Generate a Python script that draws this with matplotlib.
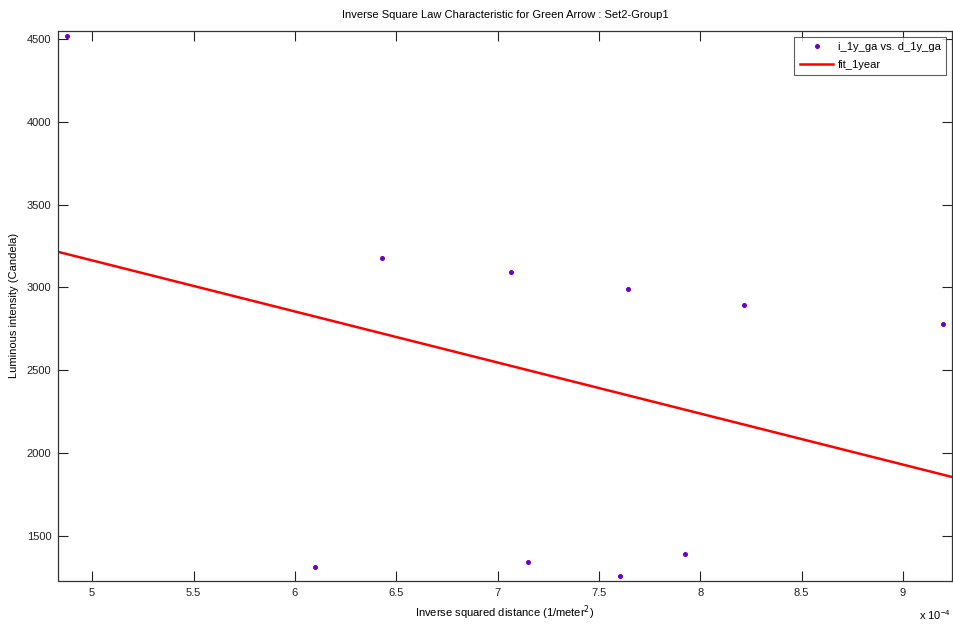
#inverse square law scatter with linear fit, matlab-looking figure

import matplotlib.pyplot as plt
from matplotlib.ticker import FuncFormatter
import numpy as np

plt.rcParams['font.family'] = ['Liberation Sans', 'DejaVu Sans']

#data (x in 1/m^2, y in candela)
dist_inv_sq = [4.877e-4, 6.098e-4, 6.431e-4, 7.067e-4, 7.151e-4,
               7.603e-4, 7.644e-4, 7.925e-4, 8.216e-4, 9.198e-4]
intensity = [4516, 1317, 3178, 3094, 1345, 1262, 2991, 1393, 2895, 2780]

#linear fit coefficients  y = p1*x + p2
p1 = -3.078e6
p2 = 4702.0

xlim = [4.834e-4, 9.24e-4]
ylim = [1232, 4546]
xticks = [5e-4, 5.5e-4, 6e-4, 6.5e-4, 7e-4, 7.5e-4, 8e-4, 8.5e-4, 9e-4]
yticks = [1500, 2000, 2500, 3000, 3500, 4000, 4500]

fig = plt.figure(figsize=(9.54, 6.24), dpi=100)
ax = fig.add_axes([58.5 / 954, 1 - 580.7 / 624, (951.7 - 58.5) / 954, (580.7 - 31) / 624])

ax.plot(dist_inv_sq, intensity, linestyle='none', marker='o', markersize=2.6,
        color='#6a00c8', label='i_1y_ga vs. d_1y_ga')
fx = np.array(xlim)
ax.plot(fx, p1 * fx + p2, color='#ff0000', linewidth=1.8, label='fit_1year')

ax.set_xlim(xlim)
ax.set_ylim(ylim)
ax.set_xticks(xticks)
ax.set_yticks(yticks)
ax.xaxis.set_major_formatter(FuncFormatter(lambda v, p: ('%g' % round(v * 1e4, 3))))

ax.tick_params(direction='in', length=7, width=0.8, top=True, right=True,
               labelsize=8, pad=5, colors='#222222')
for s in ax.spines.values():
    s.set_linewidth(0.9)
    s.set_color('#333333')

ax.set_title('Inverse Square Law Characteristic for Green Arrow : Set2-Group1',
             fontsize=8, pad=9)
ax.set_xlabel('Inverse squared distance (1/meter$^2$)', fontsize=8, labelpad=4)
ax.set_ylabel('Luminous intensity (Candela)', fontsize=8, labelpad=6)
fig.text(951 / 954, 1 - 615 / 624, 'x 10$^{\\mathregular{-4}}$', fontsize=8,
         ha='right', va='center')

leg = ax.legend(loc='upper right', fontsize=8, frameon=True, fancybox=False,
                borderaxespad=0.5, handlelength=3.0, handletextpad=0.4,
                borderpad=0.5, labelspacing=0.7)
leg.get_frame().set_edgecolor('#333333')
leg.get_frame().set_linewidth(0.8)

fig.savefig('out.png', dpi=100)
